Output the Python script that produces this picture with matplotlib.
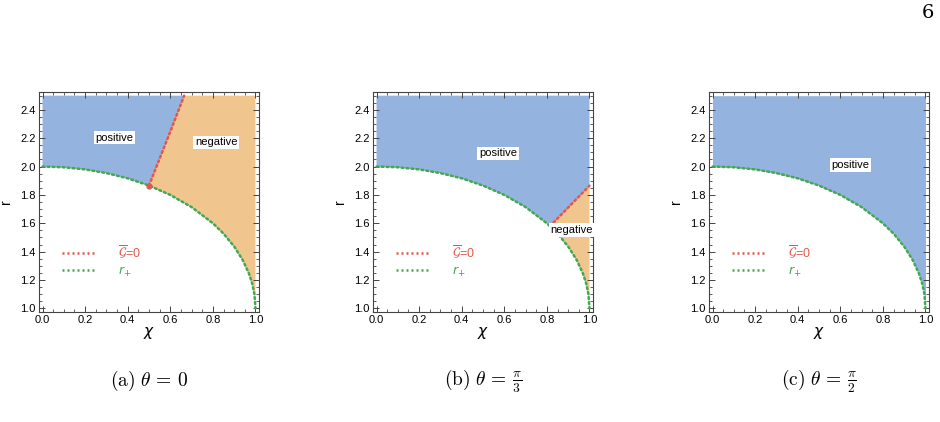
import matplotlib
matplotlib.use("Agg")
import matplotlib.pyplot as plt
from matplotlib.ticker import MultipleLocator
from matplotlib.lines import Line2D

# horizon r_+ (same in every panel)
chi_h = [0.0, 0.1, 0.2, 0.3, 0.4, 0.5, 0.6, 0.7, 0.8, 0.85, 0.9, 0.94, 0.97, 0.985, 0.995, 1.0]
r_h = [2.0, 1.995, 1.980, 1.954, 1.917, 1.866, 1.800, 1.714, 1.600, 1.527, 1.436, 1.341, 1.243, 1.173, 1.100, 1.0]

# G=0 boundary, panel a and panel b
chi_g_a = [0.50, 0.555, 0.61, 0.665]
r_g_a = [1.866, 2.075, 2.285, 2.50]
chi_g_b = [0.815, 0.87, 0.935, 1.0]
r_g_b = [1.580, 1.665, 1.765, 1.865]

r_top = 2.5
captions = [r"$\mathrm{(a)}\ \theta \,=\, 0$",
            r"$\mathrm{(b)}\ \theta \,=\, \frac{\pi}{3}$",
            r"$\mathrm{(c)}\ \theta \,=\, \frac{\pi}{2}$"]
# label positions (chi, r)
pos_labels = [(0.337, 2.205), (0.57, 2.093), (0.649, 2.01)]
neg_labels = [(0.815, 2.17), (0.917, 1.552), None]

BLUE = "#94b3df"
ORANGE = "#f0c68e"
RED = "#e2574c"
GREEN = "#43a853"
FRAME = "#444444"

plt.rcParams["font.family"] = ["Liberation Sans", "DejaVu Sans"]
plt.rcParams["mathtext.fontset"] = "cm"

W, H = 940, 422
fig = plt.figure(figsize=(W / 100, H / 100), dpi=100)
lefts = [39, 373, 709]


def interp_h(x):
    # linear lookup on the read horizon points
    for i in range(len(chi_h) - 1):
        if chi_h[i] <= x <= chi_h[i + 1]:
            t = (x - chi_h[i]) / (chi_h[i + 1] - chi_h[i])
            return r_h[i] + t * (r_h[i + 1] - r_h[i])
    return r_h[-1]


for k in range(3):
    ax = fig.add_axes([lefts[k] / W, (H - 312) / H, 220 / W, 220 / H])

    if k == 0:
        cg, rg = chi_g_a, r_g_a
    elif k == 1:
        cg, rg = chi_g_b, r_g_b
    else:
        cg, rg = None, None

    if cg is None:
        ax.fill_between(chi_h, r_h, r_top, color=BLUE, lw=0)
    elif k == 0:
        # positive: left of G=0 line
        xs = [c for c in chi_h if c <= cg[0]]
        ys = [interp_h(c) for c in xs]
        poly_x = [0.0] + xs + cg + [0.0]
        poly_y = [r_top] + ys + rg + [r_top]
        ax.fill(poly_x, poly_y, color=BLUE, lw=0)
        xs2 = [c for c in chi_h if c > cg[0]]
        ys2 = [interp_h(c) for c in xs2]
        poly_x = cg + [1.0] + xs2[::-1] + [cg[0]]
        poly_y = rg + [r_top] + ys2[::-1] + [rg[0]]
        ax.fill(poly_x, poly_y, color=ORANGE, lw=0)
    else:
        xs = [c for c in chi_h if c <= cg[0]]
        ys = [interp_h(c) for c in xs]
        poly_x = [0.0] + xs + cg + [1.0, 0.0]
        poly_y = [r_top] + ys + rg + [r_top, r_top]
        ax.fill(poly_x, poly_y, color=BLUE, lw=0)
        xs2 = [c for c in chi_h if c > cg[0]]
        ys2 = [interp_h(c) for c in xs2]
        poly_x = cg + xs2[::-1] + [cg[0]]
        poly_y = rg + ys2[::-1] + [rg[0]]
        ax.fill(poly_x, poly_y, color=ORANGE, lw=0)

    ax.plot(chi_h, r_h, color=GREEN, lw=1.8, ls=(0, (0.8, 1.2)),
            dash_capstyle="round")
    if cg is not None:
        ax.plot(cg, rg, color=RED, lw=1.8, ls=(0, (0.8, 1.2)),
                dash_capstyle="round")
    if k == 0:
        ax.plot([cg[0]], [rg[0]], "o", color=RED, ms=3.5)

    bbox = dict(facecolor="white", edgecolor="none", pad=1.2)
    px, py = pos_labels[k]
    ax.text(px, py, "positive", fontsize=8, ha="center", va="center",
            bbox=bbox)
    if neg_labels[k] is not None:
        nx, ny = neg_labels[k]
        ax.text(nx, ny, "negative", fontsize=8, ha="center", va="center",
                bbox=bbox)

    handles = [Line2D([], [], color=RED, lw=1.8, ls=(0, (0.8, 1.2))),
               Line2D([], [], color=GREEN, lw=1.8, ls=(0, (0.8, 1.2)))]
    leg = ax.legend(handles, [r"$\overline{\mathcal{G}}$=0", r"$r_{+}$"],
                    loc="center left", bbox_to_anchor=(0.105, 0.23),
                    frameon=False, borderpad=0, borderaxespad=0,
                    handlelength=2.6, handletextpad=1.9, labelspacing=0.25,
                    fontsize=9, labelcolor="linecolor")
    for t in leg.get_texts():
        t.set_math_fontfamily("dejavusans")

    ax.set_xlim(-0.0166, 1.0166)
    ax.set_ylim(0.974, 2.526)
    ax.xaxis.set_major_locator(MultipleLocator(0.2))
    ax.xaxis.set_minor_locator(MultipleLocator(0.05))
    ax.yaxis.set_major_locator(MultipleLocator(0.2))
    ax.yaxis.set_minor_locator(MultipleLocator(0.05))
    ax.xaxis.set_major_formatter(lambda v, p: f"{v:.1f}")
    ax.yaxis.set_major_formatter(lambda v, p: f"{v:.1f}")
    ax.tick_params(which="both", direction="in", top=True, right=True,
                   color=FRAME, labelsize=8, pad=2.5)
    ax.tick_params(which="major", length=4, width=0.7)
    ax.tick_params(which="minor", length=2, width=0.6)
    for s in ax.spines.values():
        s.set_color(FRAME)
        s.set_linewidth(0.8)
    ax.set_xlabel(r"$\chi$", fontsize=11, labelpad=0)
    ax.xaxis.label.set_math_fontfamily("dejavusans")
    ax.set_ylabel("r", fontsize=10, labelpad=5)

    fig.text((lefts[k] + 110) / W, 1 - 381 / H, captions[k], fontsize=14,
             ha="center", va="center")

fig.text(928 / W, 1 - 13 / H, "6", fontsize=14, ha="center", va="center",
         fontfamily="DejaVu Serif", math_fontfamily="cm")

fig.savefig("out.png", dpi=100)
